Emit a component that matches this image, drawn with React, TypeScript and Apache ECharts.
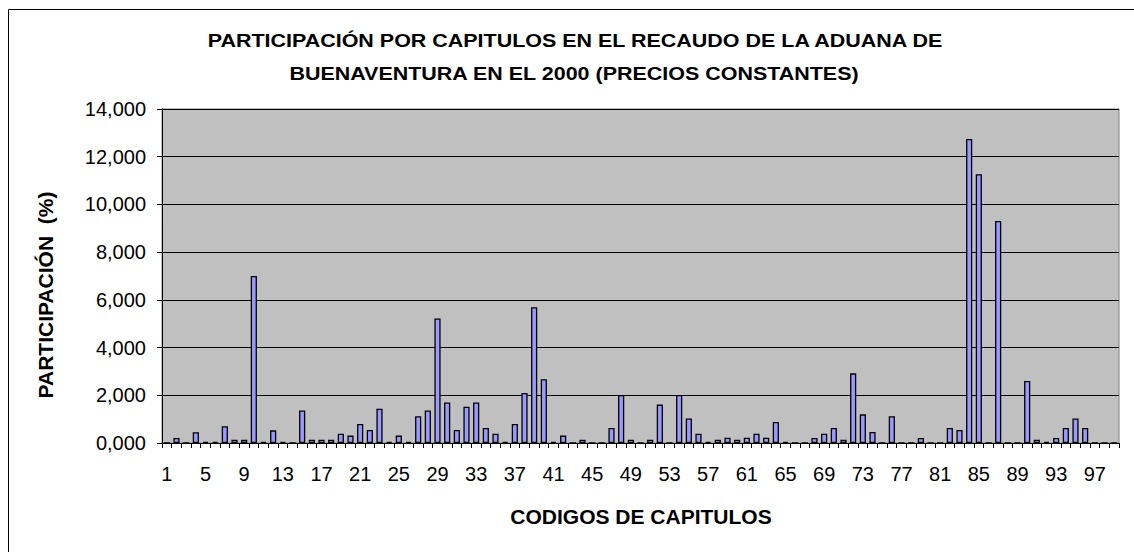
import React, { useEffect, useRef } from "react";
import * as echarts from "echarts";

const titleLines = [
  "PARTICIPACIÓN POR CAPITULOS EN EL RECAUDO DE LA ADUANA DE",
  "BUENAVENTURA EN EL 2000 (PRECIOS CONSTANTES)",
];
const yAxisTitle = "PARTICIPACIÓN  (%)";
const xAxisTitle = "CODIGOS DE CAPITULOS";

const chapters: string[] = [];
for (let i = 1; i <= 99; i++) chapters.push(String(i));

// participation (%) per chapter 1..99
const participation = [
  0, 0.21, 0, 0.45, 0.05, 0.05, 0.7, 0.14, 0.14, 7.0,
  0.05, 0.53, 0.05, 0, 1.36, 0.14, 0.14, 0.14, 0.39, 0.31,
  0.8, 0.55, 1.44, 0.05, 0.31, 0.05, 1.12, 1.36, 5.22, 1.7,
  0.55, 1.52, 1.7, 0.63, 0.39, 0.05, 0.8, 2.1, 5.69, 2.67,
  0.05, 0.31, 0, 0.14, 0, 0, 0.63, 2.01, 0.14, 0,
  0.14, 1.61, 0, 2.01, 1.03, 0.39, 0.05, 0.14, 0.22, 0.14,
  0.22, 0.39, 0.22, 0.88, 0.05, 0, 0, 0.21, 0.39, 0.63,
  0.14, 2.92, 1.2, 0.46, 0, 1.12, 0, 0, 0.21, 0,
  0, 0.63, 0.55, 12.74, 11.27, 0, 9.31, 0, 0, 2.6,
  0.14, 0.05, 0.21, 0.63, 1.03, 0.63, 0, 0, 0,
];

const yTicks = { min: 0, max: 14, interval: 2 };

export default function App() {
  const ref = useRef<HTMLDivElement>(null);
  useEffect(() => {
    if (!ref.current) return;
    const chart = echarts.init(ref.current, undefined, { renderer: "svg" });
    const font = "'Liberation Sans', Arial, sans-serif";
    chart.setOption({
      animation: false,
      backgroundColor: "#ffffff",
      grid: {
        left: 162,
        top: 109,
        right: 15,
        bottom: 109,
        show: true,
        backgroundColor: "#C0C0C0",
        borderColor: "#808080",
        borderWidth: 1,
      },
      xAxis: {
        type: "category",
        data: chapters,
        boundaryGap: true,
        axisLine: { show: true, lineStyle: { color: "#000", width: 1 } },
        axisTick: { show: true, interval: 0, length: 5, lineStyle: { color: "#000" } },
        axisLabel: {
          interval: 3,
          margin: 21,
          color: "#000",
          fontFamily: font,
          fontSize: 20,
        },
        splitLine: { show: false },
      },
      yAxis: {
        type: "value",
        min: yTicks.min,
        max: yTicks.max,
        interval: yTicks.interval,
        axisLine: { show: true, lineStyle: { color: "#000", width: 1 } },
        axisTick: { show: true, length: 5, lineStyle: { color: "#000" } },
        axisLabel: {
          margin: 16,
          color: "#000",
          fontFamily: font,
          fontSize: 20,
          formatter: (v: number) => v.toFixed(3).replace(".", ","),
        },
        splitLine: { show: true, lineStyle: { color: "#000", width: 1 } },
      },
      series: [
        {
          type: "bar",
          data: participation,
          barWidth: "64%",
          itemStyle: { color: "#9999FF", borderColor: "#000", borderWidth: 1.3 },
        },
      ],
      graphic: [
        {
          type: "rect",
          shape: { x: 8.5, y: 9.5, width: 1200, height: 700 },
          style: { fill: "none", stroke: "#000", lineWidth: 1 },
          silent: true,
        },
        {
          type: "text",
          x: 575,
          y: 40,
          scaleX: 1.13,
          style: {
            text: titleLines[0],
            fontFamily: font,
            fontWeight: "bold",
            fontSize: 19,
            fill: "#000",
            textAlign: "center",
            textVerticalAlign: "middle",
          },
        },
        {
          type: "text",
          x: 574,
          y: 73,
          scaleX: 1.13,
          style: {
            text: titleLines[1],
            fontFamily: font,
            fontWeight: "bold",
            fontSize: 19,
            fill: "#000",
            textAlign: "center",
            textVerticalAlign: "middle",
          },
        },
        {
          type: "text",
          x: 45,
          y: 295,
          rotation: Math.PI / 2,
          style: {
            text: yAxisTitle,
            fontFamily: font,
            fontWeight: "bold",
            fontSize: 21,
            fill: "#000",
            textAlign: "center",
            textVerticalAlign: "middle",
          },
        },
        {
          type: "text",
          x: 641,
          y: 516,
          style: {
            text: xAxisTitle,
            fontFamily: font,
            fontWeight: "bold",
            fontSize: 21,
            fill: "#000",
            textAlign: "center",
            textVerticalAlign: "middle",
          },
        },
      ],
    });
    return () => chart.dispose();
  }, []);
  return (
    <div
      ref={ref}
      style={{ position: "fixed", left: 0, top: 0, width: 1134, height: 552 }}
    />
  );
}
